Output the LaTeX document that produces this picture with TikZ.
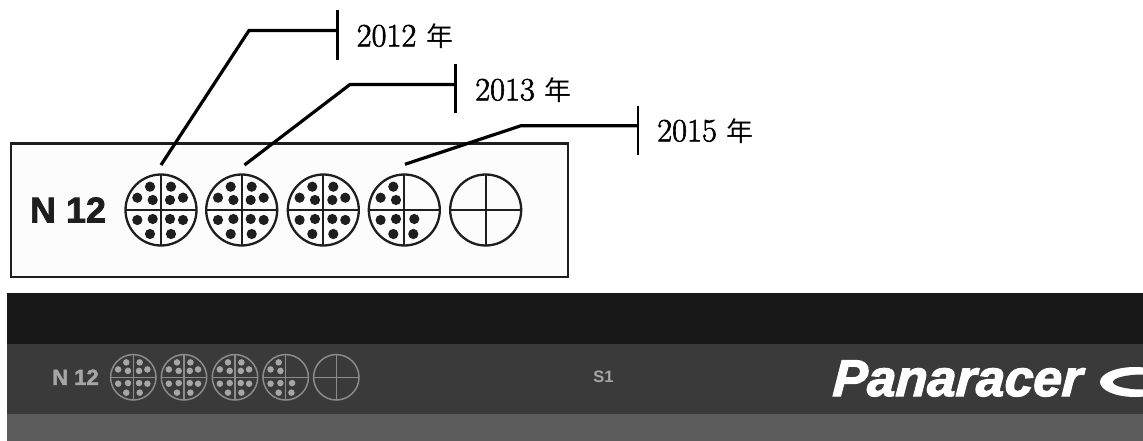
\documentclass[tikz,border=0pt]{standalone}
\usepackage{fontspec}
\setsansfont{Liberation Sans}
\newfontfamily\cjkfont{Noto Sans CJK JP}
\newfontfamily\heavyfont[FakeBold=2]{Liberation Sans Bold}
\newfontfamily\logofont[FakeBold=2.5,FakeSlant=0.06]{Liberation Sans Bold Italic}
\newfontfamily\yearfont[FakeBold=1.8]{Latin Modern Roman}
\definecolor{inkk}{HTML}{1E1E1E}
\definecolor{bandA}{HTML}{171717}
\definecolor{bandB}{HTML}{3A3A3A}
\definecolor{bandC}{HTML}{5C5C5C}
\definecolor{softgrey}{HTML}{A6A6A6}
\definecolor{ringgrey}{HTML}{8C8C8C}
\def\fullset{-11/-23.3,10/-23.3,-23.7/-12.3,-8.3/-10,9/-10,22/-12.3,-23.7/10,-8.3/9,9/9,22/10,-11/24,10/24}
\def\partset{-11/-23.3,-23.7/-12.3,-8.3/-10,-23.7/10,-8.3/9,10/9,-11/24,9/24}
\def\noset{}
% #1 centre x, #2 centre y, #3 scale, #4 ring colour, #5 dot colour, #6 dots macro
\newcommand{\wearmark}[6]{%
  \begin{scope}[shift={(#1,#2)},scale=#3]
    \draw[line width=#3*2.3pt,#4] (0,0) circle[radius=35.5];
    \draw[line width=#3*2.3pt,#4] (-35.5,0) -- (35.5,0) (0,-35.5) -- (0,35.5);
    \foreach \dx/\dy in #6 { \fill[#5] (\dx,\dy) circle[radius=5.1]; }
  \end{scope}}
\newcommand{\yeartext}[1]{{\yearfont #1} {\cjkfont\fontsize{27}{30}\selectfont 年}}
\begin{document}
\begin{tikzpicture}[x=1pt,y=-1pt,
  leaderline/.style={line width=3.2pt,black,line cap=butt,line join=miter},
  tickline/.style={line width=2.8pt,black},
  yearlabel/.style={anchor=west,inner sep=0pt,font=\fontsize{32.5}{34}\selectfont},
  ]
\useasboundingbox (0,0) rectangle (1143,441);
% bands
\fill[bandA] (7,293) rectangle (1143,344);
\fill[bandB] (7,344) rectangle (1143,414);
\fill[bandC] (7,414) rectangle (1143,441);
% upper box
\draw[line width=2.6pt,inkk,fill=white!99!black] (11,143.5) rectangle (568,277);
\node[font=\heavyfont\fontsize{36}{38}\selectfont,text=inkk,inner sep=0pt] (bigcode) at (68,210) {N 12};
% big marks
\wearmark{161}{210}{1}{inkk}{inkk}{\fullset}
\wearmark{241.7}{210}{1}{inkk}{inkk}{\fullset}
\wearmark{323.3}{210}{1}{inkk}{inkk}{\fullset}
\wearmark{404.3}{210}{1}{inkk}{inkk}{\partset}
\wearmark{485.7}{210}{1}{inkk}{inkk}{\noset}
% leaders
\coordinate (a0) at (161,165); \coordinate (a1) at (249,30.5); \coordinate (a2) at (337.7,30.5);
\coordinate (at) at (337.7,10.5); \coordinate (ab) at (337.7,60);
\coordinate (b0) at (244.5,165); \coordinate (b1) at (350,84.5); \coordinate (b2) at (455.7,84.5);
\coordinate (bt) at (455.7,64); \coordinate (bb) at (455.7,113.5);
\coordinate (c0) at (405,164.3); \coordinate (c1) at (521,125.7); \coordinate (c2) at (638,125.7);
\coordinate (ct) at (638,105.7); \coordinate (cb) at (638,154.7);
\draw[leaderline] (a0) -- (a1) -- (a2);
\draw[tickline] (at) -- (ab);
\draw[leaderline] (b0) -- (b1) -- (b2);
\draw[tickline] (bt) -- (bb);
\draw[leaderline] (c0) -- (c1) -- (c2);
\draw[tickline] (ct) -- (cb);
\node[yearlabel] (y12) at (356.5,36) {\yeartext{2012}};
\node[yearlabel] (y13) at (475,90) {\yeartext{2013}};
\node[yearlabel] (y15) at (657,131) {\yeartext{2015}};
% small marks on the band
\node[font=\heavyfont\fontsize{22}{24}\selectfont,text=softgrey,inner sep=0pt] (smallcode) at (75.5,377.3) {N 12};
\wearmark{133.3}{377.3}{0.64}{ringgrey}{softgrey}{\fullset}
\wearmark{184}{377.3}{0.64}{ringgrey}{softgrey}{\fullset}
\wearmark{235}{377.3}{0.64}{ringgrey}{softgrey}{\fullset}
\wearmark{285.7}{377.3}{0.64}{ringgrey}{softgrey}{\partset}
\wearmark{336.3}{377.3}{0.64}{ringgrey}{softgrey}{\noset}
\node[font=\sffamily\bfseries\fontsize{16.5}{18}\selectfont,text=softgrey,inner sep=0pt] (sone) at (603.5,377) {S1};
% logo
\node[font=\logofont\fontsize{51.5}{55}\selectfont,text=white,anchor=base west,inner sep=0pt] (logo) at (832,396) {Panaracer};
\fill[white] (1135,382) ellipse[x radius=35,y radius=15];
\fill[bandB] (1143,382) ellipse[x radius=30,y radius=7.5];
\end{tikzpicture}
\end{document}
